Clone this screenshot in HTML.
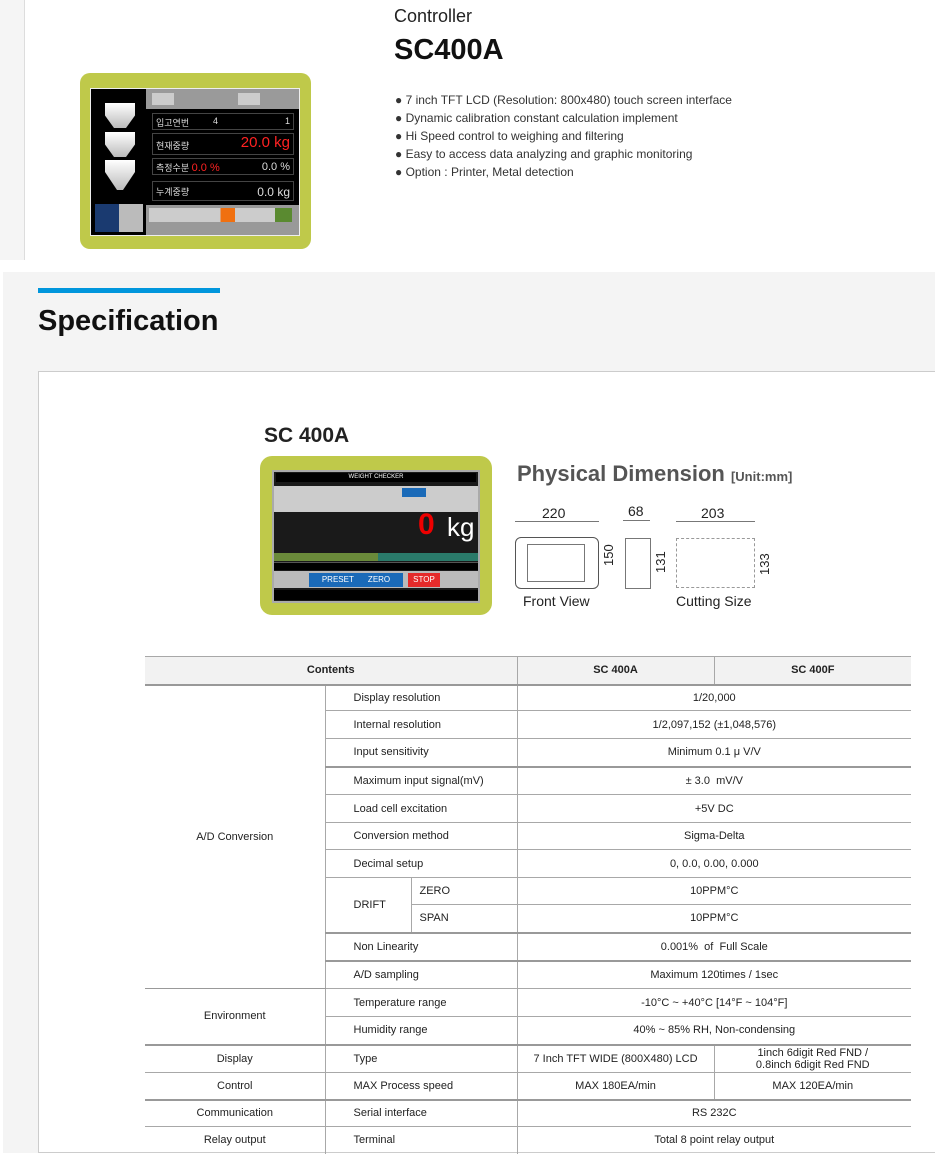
<!DOCTYPE html>
<html><head><meta charset="utf-8">
<style>
*{margin:0;padding:0;box-sizing:border-box}
body{width:935px;height:1167px;position:relative;background:#fff;font-family:"Liberation Sans","Noto Sans CJK KR",sans-serif;overflow:hidden;color:#222}
.a{position:absolute}
table{position:absolute;left:145px;top:656px;border-collapse:collapse;table-layout:fixed;width:766px;font-size:11px;color:#222}
td{border:1px solid #a8a8a8;text-align:center;padding:0;line-height:12px;font-weight:normal}
td:last-child,th:last-child{border-right:none}
td.l{text-align:left;padding-left:28px}
td.l2{text-align:left;padding-left:8px}
tr.t td{border-top:2px solid #999}
th{background:#f2f2f2;border:1px solid #a8a8a8;border-bottom:2px solid #999;font-size:11px;font-weight:bold;height:28px}
.b{border-left:none}
</style></head><body>
<div class="a" style="left:0;top:0;width:25px;height:260px;background:#f5f5f5;border-right:1px solid #ddd"></div>
<div class="a" style="left:80px;top:73px;width:231px;height:176px;background:#bfc94a;border-radius:10px"></div>
<div class="a" style="left:90px;top:88px;width:210px;height:148px;background:#000;border:1px solid #eee"></div>
<div class="a" style="left:146px;top:89px;width:153px;height:20px;background:#9a9a9a"></div>
<div class="a" style="left:152px;top:93px;width:22px;height:12px;background:#ccc"></div>
<div class="a" style="left:238px;top:93px;width:22px;height:12px;background:#ccc"></div>
<div class="a" style="left:105px;top:103px;width:30px;height:25px;background:linear-gradient(#fff,#bbb);clip-path:polygon(0 0,100% 0,100% 50%,70% 100%,30% 100%,0 50%)"></div>
<div class="a" style="left:105px;top:132px;width:30px;height:25px;background:linear-gradient(#fff,#bbb);clip-path:polygon(0 0,100% 0,100% 50%,70% 100%,30% 100%,0 50%)"></div>
<div class="a" style="left:105px;top:160px;width:30px;height:30px;background:linear-gradient(#fff,#bbb);clip-path:polygon(0 0,100% 0,100% 40%,60% 100%,40% 100%,0 40%)"></div>
<div class="a" style="left:152px;top:113px;width:142px;height:17px;border:1px solid #444;color:#ddd;font-size:9px;padding:2px 3px">입고연번<span style="float:right">1</span><span style="position:absolute;left:60px">4</span></div>
<div class="a" style="left:152px;top:133px;width:142px;height:22px;border:1px solid #444;color:#ddd;font-size:9px;padding:5px 3px">현재중량<span style="position:absolute;right:3px;top:0;color:#f22;font-size:15px">20.0 kg</span></div>
<div class="a" style="left:152px;top:158px;width:142px;height:17px;border:1px solid #444;color:#ddd;font-size:9px;padding:2px 3px">측정수분 <span style="color:#f22;font-size:11px">0.0 %</span><span style="float:right;font-size:11px">0.0 %</span></div>
<div class="a" style="left:152px;top:181px;width:142px;height:20px;border:1px solid #444;color:#ddd;font-size:9px;padding:3px 3px">누계중량<span style="float:right;font-size:12px">0.0 kg</span></div>
<div class="a" style="left:146px;top:205px;width:153px;height:30px;background:#999"></div>
<div class="a" style="left:149px;top:208px;width:143px;height:14px;background:linear-gradient(90deg,#ccc 0 50%,#f07010 50% 60%,#ccc 60% 88%,#5a8a30 88%)"></div>
<div class="a" style="left:95px;top:204px;width:48px;height:28px;background:linear-gradient(90deg,#1a3a70 0 50%,#bbb 50%)"></div>
<div class="a" style="left:394px;top:6px;font-size:18px;color:#222">Controller</div>
<div class="a" style="left:394px;top:34px;font-size:29px;font-weight:bold;color:#111">SC400A</div>
<div class="a" style="left:395px;top:91px;font-size:12px;line-height:18px;color:#333">
● 7 inch TFT LCD (Resolution: 800x480) touch screen interface<br>● Dynamic calibration constant calculation implement<br>● Hi Speed control to weighing and filtering<br>● Easy to access data analyzing and graphic monitoring<br>● Option : Printer, Metal detection</div>
<div class="a" style="left:3px;top:272px;width:932px;height:881px;background:#f4f4f4"></div>
<div class="a" style="left:38px;top:288px;width:182px;height:5px;background:#0096dc"></div>
<div class="a" style="left:38px;top:305px;font-size:29px;font-weight:bold;color:#111">Specification</div>
<div class="a" style="left:38px;top:371px;width:900px;height:782px;background:#fff;border:1px solid #ccc"></div>
<div class="a" style="left:264px;top:424px;font-size:21px;font-weight:bold;color:#222">SC 400A</div>
<div class="a" style="left:260px;top:456px;width:232px;height:159px;background:#bfc94a;border-radius:12px"></div>
<div class="a" style="left:272px;top:470px;width:208px;height:133px;background:#1a1a1a;border:2px solid #aaa"></div>
<div class="a" style="left:276px;top:473px;width:200px;height:9px;background:#000;color:#fff;font-size:6px;text-align:center;line-height:9px">WEIGHT CHECKER</div>
<div class="a" style="left:274px;top:486px;width:204px;height:26px;background:#ccc"></div>
<div class="a" style="left:402px;top:488px;width:24px;height:9px;background:#1a6ab8"></div>
<div class="a" style="left:418px;top:510px;font-size:30px;color:#e00;font-weight:bold;line-height:30px">0</div>
<div class="a" style="left:447px;top:514px;font-size:26px;color:#fff;line-height:26px">kg</div>
<div class="a" style="left:274px;top:553px;width:204px;height:8px;background:linear-gradient(90deg,#6a8a3a 0 51%,#2a7a6a 51%)"></div>
<div class="a" style="left:274px;top:562px;width:204px;height:8px;background:#000;border-top:1px solid #555"></div>
<div class="a" style="left:274px;top:571px;width:204px;height:17px;background:#bbb"></div>
<div class="a" style="left:309px;top:573px;width:94px;height:14px;background:#1a6ab8;color:#fff;font-size:8px;line-height:14px;word-spacing:12px;text-align:center">PRESET ZERO RUN</div>
<div class="a" style="left:408px;top:573px;width:32px;height:14px;background:#e52a2a;color:#fff;font-size:8px;line-height:14px;text-align:center">STOP</div>
<div class="a" style="left:274px;top:590px;width:204px;height:10px;background:#000"></div>
<div class="a" style="left:517px;top:461px;font-size:22px;font-weight:bold;color:#555">Physical Dimension <span style="font-size:13px">[Unit:mm]</span></div>
<div class="a" style="left:542px;top:505px;font-size:14px">220</div>
<div class="a" style="left:628px;top:503px;font-size:14px">68</div>
<div class="a" style="left:701px;top:505px;font-size:14px">203</div>
<div class="a" style="left:515px;top:521px;width:84px;height:0;border-top:1px solid #777"></div>
<div class="a" style="left:623px;top:520px;width:27px;height:0;border-top:1px solid #777"></div>
<div class="a" style="left:676px;top:521px;width:79px;height:0;border-top:1px solid #777"></div>
<div class="a" style="left:515px;top:537px;width:84px;height:52px;border:1px solid #555;border-radius:6px"></div>
<div class="a" style="left:527px;top:544px;width:58px;height:38px;border:1px solid #777"></div>
<div class="a" style="left:625px;top:538px;width:26px;height:51px;border:1px solid #777"></div>
<div class="a" style="left:676px;top:538px;width:79px;height:50px;border:1px dashed #999"></div>
<div class="a" style="left:601px;top:566px;font-size:13px;transform:rotate(-90deg);transform-origin:left top">150</div>
<div class="a" style="left:653px;top:573px;font-size:13px;transform:rotate(-90deg);transform-origin:left top">131</div>
<div class="a" style="left:757px;top:575px;font-size:13px;transform:rotate(-90deg);transform-origin:left top">133</div>
<div class="a" style="left:523px;top:593px;font-size:14px">Front View</div>
<div class="a" style="left:676px;top:593px;font-size:14px">Cutting Size</div>
<table>
<colgroup><col style="width:180px"><col style="width:86px"><col style="width:106px"><col style="width:197px"><col style="width:197px"></colgroup>
<tr><th colspan="3" style="border-left:none">Contents</th><th>SC 400A</th><th>SC 400F</th></tr>
<tr style="height:26px"><td rowspan="11" class="b" style="border-bottom:1px solid #999">A/D Conversion</td><td colspan="2" class="l">Display resolution</td><td colspan="2">1/20,000</td></tr>
<tr style="height:28px"><td colspan="2" class="l">Internal resolution</td><td colspan="2">1/2,097,152 (±1,048,576)</td></tr>
<tr style="height:28px"><td colspan="2" class="l">Input sensitivity</td><td colspan="2">Minimum 0.1 μ V/V</td></tr>
<tr class="t" style="height:28px"><td colspan="2" class="l">Maximum input signal(mV)</td><td colspan="2">± 3.0&nbsp; mV/V</td></tr>
<tr style="height:28px"><td colspan="2" class="l">Load cell excitation</td><td colspan="2">+5V DC</td></tr>
<tr style="height:27px"><td colspan="2" class="l">Conversion method</td><td colspan="2">Sigma-Delta</td></tr>
<tr style="height:28px"><td colspan="2" class="l">Decimal setup</td><td colspan="2">0, 0.0, 0.00, 0.000</td></tr>
<tr style="height:27px"><td rowspan="2" class="l">DRIFT</td><td class="l2">ZERO</td><td colspan="2">10PPM°C</td></tr>
<tr style="height:28px"><td class="l2">SPAN</td><td colspan="2">10PPM°C</td></tr>
<tr class="t" style="height:28px"><td colspan="2" class="l">Non Linearity</td><td colspan="2">0.001%&nbsp; of&nbsp; Full Scale</td></tr>
<tr class="t" style="height:28px"><td colspan="2" class="l">A/D sampling</td><td colspan="2">Maximum 120times / 1sec</td></tr>
<tr style="height:28px"><td rowspan="2" class="b">Environment</td><td colspan="2" class="l">Temperature range</td><td colspan="2">-10°C ~ +40°C [14°F ~ 104°F]</td></tr>
<tr style="height:28px"><td colspan="2" class="l">Humidity range</td><td colspan="2">40% ~ 85% RH, Non-condensing</td></tr>
<tr class="t" style="height:28px"><td class="b">Display</td><td colspan="2" class="l">Type</td><td>7 Inch TFT WIDE (800X480) LCD</td><td>1inch 6digit Red FND /<br>0.8inch 6digit Red FND</td></tr>
<tr style="height:27px"><td class="b">Control</td><td colspan="2" class="l">MAX Process speed</td><td>MAX 180EA/min</td><td>MAX 120EA/min</td></tr>
<tr class="t" style="height:27px"><td class="b">Communication</td><td colspan="2" class="l">Serial interface</td><td colspan="2">RS 232C</td></tr>
<tr style="height:27px"><td class="b" style="border-bottom:none">Relay output</td><td colspan="2" class="l" style="border-bottom:none">Terminal</td><td colspan="2" style="border-bottom:none">Total 8 point relay output</td></tr>
</table>
</body></html>
